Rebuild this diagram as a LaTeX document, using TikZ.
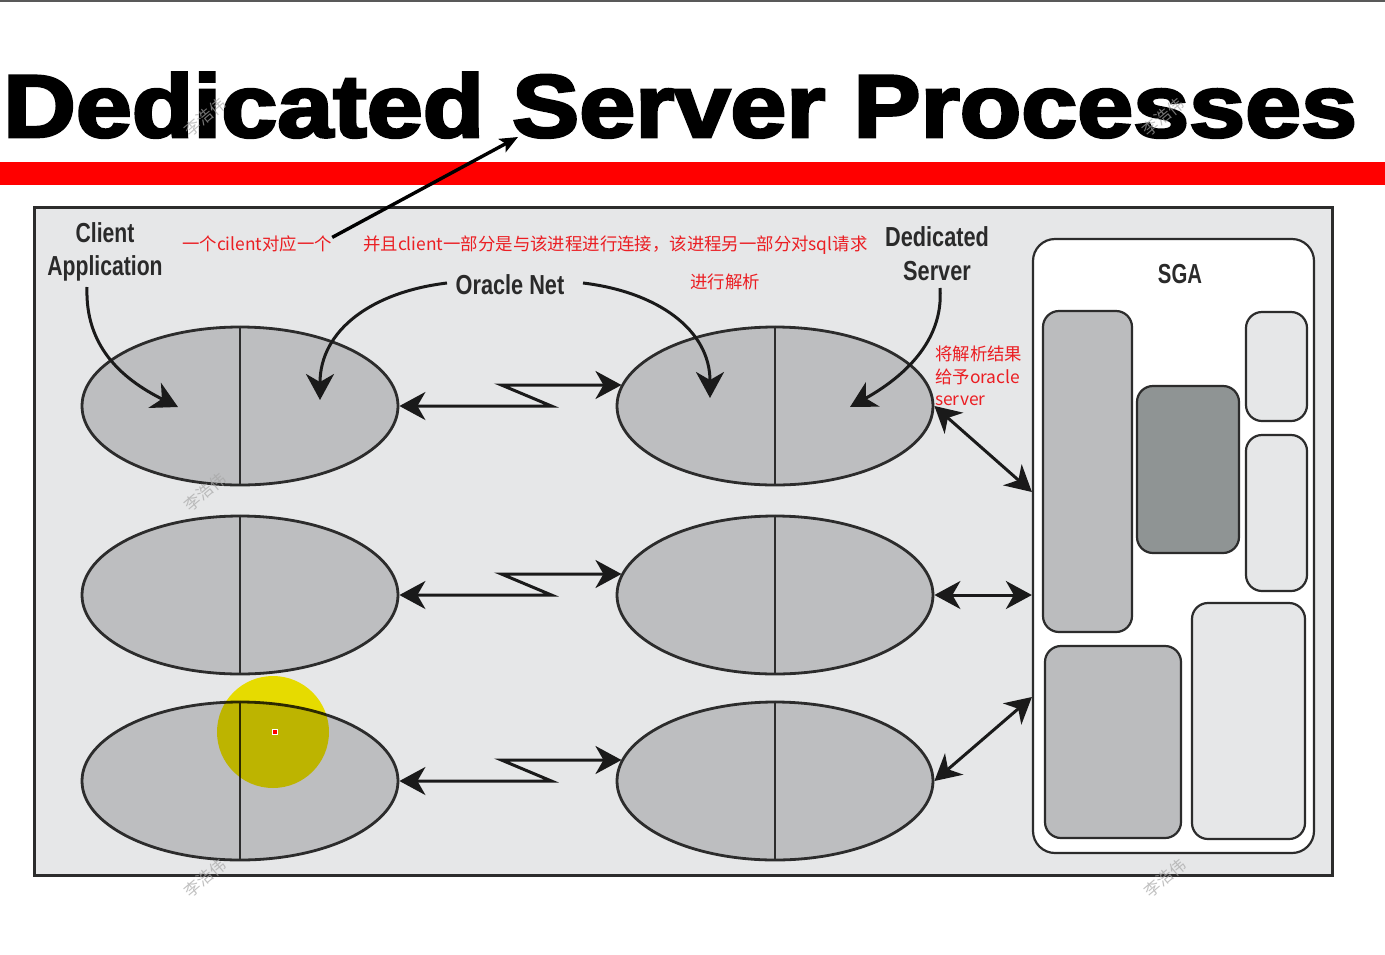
\documentclass[tikz,border=0pt]{standalone}
\usepackage{fontspec}
\setmainfont{Liberation Sans}
\newfontfamily\cjk{Noto Sans CJK SC}
\newfontfamily\titlefont{Liberation Sans Bold}[FakeBold=3]
\usetikzlibrary{shapes.geometric,arrows.meta,calc}

\definecolor{panel}{HTML}{E6E7E8}
\definecolor{procfill}{HTML}{BDBEC0}
\definecolor{midbox}{HTML}{BBBCBE}
\definecolor{darkbox}{HTML}{8F9494}
\definecolor{edge}{HTML}{2C2C2C}
\definecolor{ink}{HTML}{1A1A1A}
\definecolor{labeltext}{HTML}{2A2A2A}
\definecolor{note}{RGB}{235,30,35}
\definecolor{barred}{HTML}{FF0000}

\tikzset{
  proc/.style={ellipse, minimum width=316, minimum height=158, inner sep=0,
    fill=procfill, draw=edge, line width=2.8},
  divider/.style={draw=edge, line width=2.8},
  link/.style={draw=ink, line width=3,
    -{Stealth[length=26pt,width=28pt,inset=8pt]}},
  dlink/.style={draw=ink, line width=3, line join=miter,
    {Stealth[length=26pt,width=28pt,inset=8pt]}-{Stealth[length=26pt,width=28pt,inset=8pt]}},
  lbl/.style={anchor=base, inner sep=0, text=labeltext,
    font=\bfseries\fontsize{27.5}{27.5}\selectfont},
  notetext/.style={anchor=base west, inner sep=0, text=note,
    font=\cjk\fontsize{17.4}{17.4}\selectfont},
  sgapart/.style={draw=edge, line width=2.2, rounded corners=16, inner sep=0},
  wmark/.style={text=black!35, opacity=0.7, rotate=40, inner sep=0,
    font=\cjk\fontsize{16}{16}\selectfont},
}

\begin{document}
\begin{tikzpicture}[x=1pt,y=-1pt]
\useasboundingbox (0,0) rectangle (1385,954);
\fill[white] (0,0) rectangle (1385,954);
\draw[black!65, line width=2] (0,1) -- (1385,1);

% heading and red rule
\node[anchor=base west, inner sep=0] (title) at (3,137)
  {\titlefont\fontsize{89}{89}\selectfont\scalebox{1.131}[1]{Dedicated Server Processes}};
\fill[barred] (0,162) rectangle (1385,185);

% diagram panel
\draw[draw=edge, fill=panel, line width=3] (34,207) rectangle (1332,875);

% client and dedicated server processes
\foreach \i/\y in {1/406, 2/595, 3/781} {
  \node[proc] (cl\i) at (240,\y) {};
  \draw[divider] (cl\i.north) -- (cl\i.south);
  \node[proc] (sv\i) at (775,\y) {};
  \draw[divider] (sv\i.north) -- (sv\i.south);
}

% SGA
\node[sgapart, fill=white, rounded corners=22, minimum width=281, minimum height=614] (sga) at (1173.5,546) {};
\node[anchor=base, inner sep=0, text=labeltext, font=\bfseries\fontsize{27.5}{27.5}\selectfont] (sgalbl) at (1180,283) {\scalebox{0.74}[1]{SGA}};
\node[sgapart, fill=midbox, minimum width=89, minimum height=321] (buf1) at (1087.5,471.5) {};
\node[sgapart, fill=darkbox, minimum width=102, minimum height=167] (buf2) at (1188,469.5) {};
\node[sgapart, fill=panel, minimum width=61, minimum height=109] (buf3) at (1276.5,366.5) {};
\node[sgapart, fill=panel, minimum width=61, minimum height=156] (buf4) at (1276.5,513) {};
\node[sgapart, fill=midbox, minimum width=136, minimum height=192] (buf5) at (1113,742) {};
\node[sgapart, fill=panel, minimum width=113, minimum height=236] (buf6) at (1248.5,721) {};

% Oracle Net connections
\foreach \i in {1,2,3} {
  \draw[dlink] (cl\i.east) -- ++(152,0) -- ++(-50,-21) coordinate (k\i) -- (k\i -| sv\i.172);
}

% server processes to SGA
\draw[dlink] (sv1.east) -- (sga.west |- 0,492);
\draw[dlink] (sv2.east) -- (sga.west |- sv2.east);
\draw[dlink] (sv3.east) -- (sga.west |- 0,697);

% labels
\node[lbl] (client) at (105,242) {\scalebox{0.77}[1]{Client}};
\node[lbl] (app) at (105,275) {\scalebox{0.77}[1]{Application}};
\node[lbl] (net) at (510,294) {\scalebox{0.79}[1]{Oracle Net}};
\node[lbl] (ded) at (937,246) {\scalebox{0.79}[1]{Dedicated}};
\node[lbl] (srv) at (937,280) {\scalebox{0.79}[1]{Server}};

% pointers from the labels into the processes
\coordinate (app-from) at (87,287);
\coordinate (app-to) at (178,407);
\coordinate (netl-from) at (447,283);
\coordinate (netl-to) at (320,400);
\coordinate (netr-from) at (583,283);
\coordinate (netr-to) at (710,398);
\coordinate (srv-from) at (940,288);
\coordinate (srv-to) at (850,407);
\draw[link] (app-from) .. controls (85,345) and (120,378) .. (app-to);
\draw[link] (netl-from) .. controls (372,292) and (320,330) .. (netl-to);
\draw[link] (netr-from) .. controls (658,292) and (710,330) .. (netr-to);
\draw[link] (srv-from) .. controls (944,342) and (902,378) .. (srv-to);

% notes
\node[notetext] (n1) at (182,250) {一个cilent对应一个};
\node[notetext] (n2) at (363,250) {并且client一部分是与该进程进行连接，该进程另一部分对sql请求};
\node[notetext, anchor=base] (n3) at (725,288) {进行解析};
\node[notetext] (n4) at (935,360) {将解析结果};
\node[notetext] (n5) at (935,383) {给予oracle};
\node[notetext] (n6) at (935,405) {server};
\coordinate (title-pt) at (518,137);
\draw[black, line width=3.4, -{Stealth[length=18pt,width=15pt,inset=4pt]}] (n1.east) ++(0,-6) -- (title-pt);

% pointer highlight
\begin{scope}[blend mode=multiply]
  \fill[yellow] (273,732) circle (56);
\end{scope}
\fill[white] (272,729) rectangle (278,735);
\fill[red] (273,730) rectangle (277,734);

% watermarks
\node[wmark] at (205,117) {李浩伟};
\node[wmark] at (1163,117) {李浩伟};
\node[wmark] at (205,492) {李浩伟};
\node[wmark] at (205,878) {李浩伟};
\node[wmark] at (1165,878) {李浩伟};
\end{tikzpicture}
\end{document}
